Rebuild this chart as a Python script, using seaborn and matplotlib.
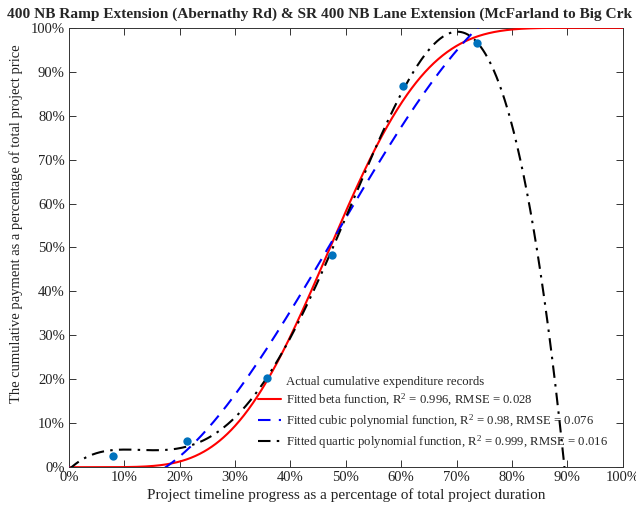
import numpy as np
import pandas as pd
import matplotlib
matplotlib.use("Agg")
import matplotlib.pyplot as plt
from matplotlib.lines import Line2D
from matplotlib.ticker import PercentFormatter, MultipleLocator
import seaborn as sns

# Cumulative expenditure records (fraction of duration, fraction of price)
progress = [0.0, 0.080, 0.2126, 0.357, 0.4744, 0.6038, 0.7363]
payment = [0.0, 0.026, 0.0596, 0.2023, 0.483, 0.8675, 0.966]
# Project completion point used to anchor the cubic fit
completion_progress = [1.0]
completion_payment = [1.0]

title_text = ("400 NB Ramp Extension (Abernathy Rd) & SR 400 NB Lane "
              "Extension (McFarland to Big Crk")
xlabel_text = "Project timeline progress as a percentage of total project duration"
ylabel_text = "The cumulative payment as a percentage of total project price"
legend_labels = [
    "Actual cumulative expenditure records",
    "Fitted beta function, R$^{2}$ = 0.996, RMSE = 0.028",
    "Fitted cubic polynomial function, R$^{2}$ = 0.98, RMSE = 0.076",
    "Fitted quartic polynomial function, R$^{2}$ = 0.999, RMSE = 0.016",
]

sns.set_style("ticks")
plt.rcParams["font.family"] = ["Liberation Serif", "DejaVu Serif"]
plt.rcParams["mathtext.fontset"] = "custom"
plt.rcParams["mathtext.rm"] = "Liberation Serif"
plt.rcParams["mathtext.it"] = "Liberation Serif:italic"

xp = np.array(progress)
yp = np.array(payment)
xs = np.linspace(0, 1, 1001)

# Cubic through the origin, least squares on records plus completion
cx = np.concatenate([xp, completion_progress])
cy = np.concatenate([yp, completion_payment])
design = np.column_stack([cx, cx ** 2, cx ** 3])
c1, c2, c3 = np.linalg.lstsq(design, cy, rcond=None)[0]
cubic = c1 * xs + c2 * xs ** 2 + c3 * xs ** 3
# Ordinary least-squares quartic on the records
quartic = np.polyval(np.polyfit(xp, yp, 4), xs)


# Beta CDF fit by grid search over the shape parameters
def beta_cdf_rows(a, b_vals, grid):
    g = grid[1:-1]
    pdf = g[None, :] ** (a - 1) * (1 - g[None, :]) ** (b_vals[:, None] - 1)
    pdf = np.concatenate([np.zeros((len(b_vals), 1)), pdf,
                          np.zeros((len(b_vals), 1))], axis=1)
    cdf = np.concatenate([np.zeros((len(b_vals), 1)),
                          np.cumsum((pdf[:, 1:] + pdf[:, :-1]) * 0.5, axis=1)],
                         axis=1)
    return cdf / cdf[:, -1:]


a_vals = np.arange(1.5, 12.0, 0.05)
b_vals = np.arange(1.5, 12.0, 0.05)
idx = np.rint(xp * 1000).astype(int)
best = (np.inf, None, None)
for a in a_vals:
    cdfs = beta_cdf_rows(a, b_vals, xs)
    sse = ((cdfs[:, idx] - yp[None, :]) ** 2).sum(axis=1)
    k = int(np.argmin(sse))
    if sse[k] < best[0]:
        best = (sse[k], a, b_vals[k])
beta_curve = beta_cdf_rows(best[1], np.array([best[2]]), xs)[0]

curves = pd.DataFrame({"x": xs, "beta": beta_curve, "cubic": cubic,
                       "quartic": quartic})
obs = pd.DataFrame({"x": xp[1:], "y": yp[1:]})

fig = plt.figure(figsize=(6.36, 5.08), dpi=100)
ax = fig.add_axes([0.1085, 0.0803, 0.8705, 0.865])

sns.scatterplot(data=obs, x="x", y="y", ax=ax, color="#0072BD", s=36,
                edgecolor="#0072BD", linewidth=0, zorder=4)
sns.lineplot(data=curves, x="x", y="beta", ax=ax, color="#ff0000",
             linewidth=1.5, estimator=None, zorder=3)
sns.lineplot(data=curves, x="x", y="cubic", ax=ax, color="#0000ff",
             linewidth=1.5, estimator=None, linestyle=(0, (6, 4)), zorder=3)
sns.lineplot(data=curves, x="x", y="quartic", ax=ax, color="black",
             linewidth=1.5, estimator=None, linestyle=(0, (6, 3, 1.2, 3)),
             zorder=3)

ax.set_xlim(0, 1)
ax.set_ylim(0, 1)
ax.xaxis.set_major_locator(MultipleLocator(0.1))
ax.yaxis.set_major_locator(MultipleLocator(0.1))
ax.xaxis.set_major_formatter(PercentFormatter(1.0, decimals=0))
ax.yaxis.set_major_formatter(PercentFormatter(1.0, decimals=0))
ax.tick_params(direction="in", top=True, right=True, length=5, width=0.7,
               color="#333333", labelsize=10.5, labelcolor="#222222", pad=3)
for sp in ax.spines.values():
    sp.set_color("#333333")
    sp.set_linewidth(0.7)
ax.set_xlabel(xlabel_text, fontsize=11, color="#222222", labelpad=3)
ax.set_ylabel(ylabel_text, fontsize=10.5, color="#222222")
ax.yaxis.set_label_coords(-0.083, 0.555)

handles = [
    Line2D([], [], linestyle="none", marker=None),
    Line2D([], [], color="#ff0000", linewidth=1.5),
    Line2D([], [], color="#0000ff", linewidth=1.5, linestyle=(0, (6, 4))),
    Line2D([], [], color="black", linewidth=1.5, linestyle=(0, (6, 3, 1.2, 3))),
]
ax.legend(handles, legend_labels, loc="lower right", frameon=False,
          fontsize=9.2, handlelength=1.8, handletextpad=0.4,
          bbox_to_anchor=(0.995, 0.01), labelspacing=0.3)

fig.text(7 / 636, 1 - 14 / 508, title_text, fontsize=11.1, fontweight="bold",
         ha="left", va="center")

fig.savefig("out.png", dpi=100)
